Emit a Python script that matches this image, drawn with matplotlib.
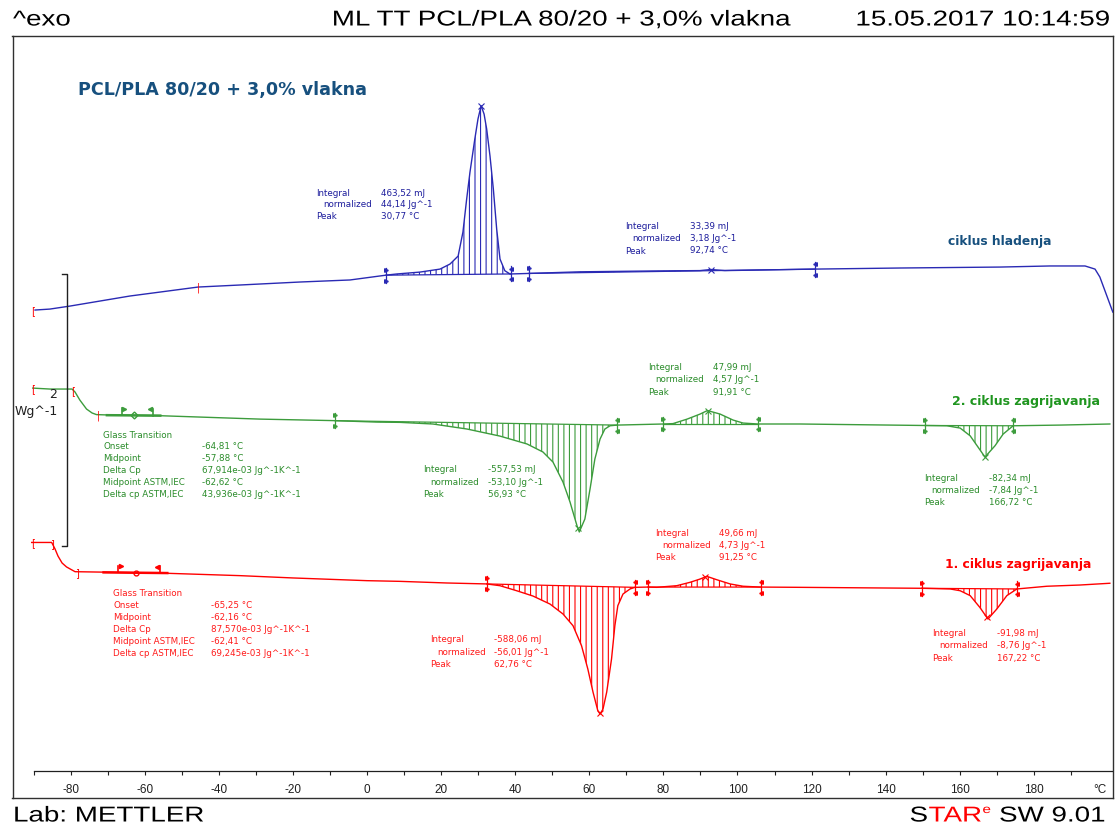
import numpy as np
import matplotlib
matplotlib.use('Agg')
import matplotlib.pyplot as plt
from matplotlib.patheffects import AbstractPathEffect
from matplotlib.transforms import Affine2D

# ---------------- data (temperature in °C, heat flow in W/g) -------------
cool_T = [-89.6, -85.6, -80.2, -72.1, -64.0, -55.9, -45.6, -34.3, -18.1, -4.6, 5.3, 8.0, 14.3,
          19.7, 22.4, 24.6, 25.9, 26.9, 27.8, 29.1, 29.95, 30.8, 31.6, 32.3, 33.2, 34.1, 35.0,
          35.9, 37.2, 38.6, 44.8, 57.5, 76.4, 89.9, 92.8, 96.6, 120.9, 143.9, 170.9, 184.3,
          193.8, 196.5, 197.8, 199.2, 200.5, 201.3]
cool_hf = [0.000, 0.007, 0.029, 0.066, 0.103, 0.132, 0.169, 0.184, 0.206, 0.221, 0.257, 0.265,
           0.279, 0.301, 0.338, 0.397, 0.574, 0.816, 1.015, 1.257, 1.404, 1.502, 1.441, 1.331,
           1.132, 0.890, 0.596, 0.375, 0.289, 0.265, 0.270, 0.281, 0.287, 0.290, 0.298, 0.290,
           0.301, 0.309, 0.316, 0.324, 0.324, 0.301, 0.243, 0.140, 0.044, -0.015]

heat2_T = [-90.2, -85.6, -79.6, -78.8, -77.5, -75.7, -74.2, -73.0, -69.4, -55.9, -28.9, -9.2,
           2.7, 8.9, 17.8, 27.0, 35.9, 43.2, 47.5, 50.2, 52.9, 54.8, 56.7, 57.3, 58.8, 60.2,
           61.5, 62.9, 64.2, 65.6, 67.5, 79.9, 82.6, 86.4, 89.9, 91.9, 95.3, 98.8, 101.5, 105.5,
           116.9, 150.6, 156.5, 160.1, 162.8, 164.9, 166.8, 169.5, 171.7, 174.0, 174.4, 187.0,
           200.5]
heat2_hf = [0.007, 0.0, 0.0, -0.022, -0.081, -0.147, -0.176, -0.188, -0.191, -0.196, -0.221,
            -0.232, -0.243, -0.245, -0.257, -0.294, -0.346, -0.404, -0.463, -0.537, -0.684,
            -0.831, -1.007, -1.051, -0.956, -0.735, -0.515, -0.368, -0.294, -0.270, -0.265,
            -0.257, -0.254, -0.221, -0.184, -0.158, -0.184, -0.228, -0.250, -0.257, -0.257,
            -0.268, -0.270, -0.287, -0.344, -0.426, -0.500, -0.417, -0.331, -0.279, -0.270,
            -0.265, -0.257]

heat1_T = [-90.5, -85.1, -84.2, -83.4, -82.3, -81.1, -78.8, -74.0, -55.9, -34.3, -20.0, 0.0,
           8.9, 21.5, 32.3, 35.9, 40.4, 44.8, 49.4, 52.9, 55.6, 57.9, 59.6, 61.0, 62.3, 62.9,
           63.7, 64.7, 66.0, 66.9, 67.7, 69.1, 71.0, 72.3, 75.8, 78.2, 83.6, 87.2, 89.9, 91.7,
           94.4, 98.0, 101.5, 106.1, 116.9, 149.7, 157.4, 160.1, 162.8, 165.4, 167.6, 170.0,
           172.7, 175.4, 183.5, 192.4, 200.5]
heat1_hf = [0.004, 0.004, -0.044, -0.096, -0.147, -0.176, -0.211, -0.213, -0.221, -0.240,
            -0.257, -0.277, -0.282, -0.294, -0.301, -0.314, -0.351, -0.390, -0.449, -0.522,
            -0.608, -0.755, -0.926, -1.096, -1.233, -1.257, -1.221, -1.096, -0.853, -0.608,
            -0.461, -0.375, -0.338, -0.326, -0.324, -0.326, -0.314, -0.289, -0.265, -0.245,
            -0.270, -0.301, -0.318, -0.324, -0.326, -0.333, -0.338, -0.351, -0.387, -0.473,
            -0.559, -0.485, -0.387, -0.338, -0.318, -0.309, -0.296]

cool_peaks = [30.77, 92.74]
heat2_peaks = [56.93, 91.91, 166.72]
heat1_peaks = [62.76, 91.25, 167.22]

cool_limits = [(5.1, 38.9), (43.6, 121.0)]
heat2_limits = [(-8.6, 67.5), (79.9, 105.5), (150.6, 174.4)]
heat1_limits = [(32.3, 72.3), (75.8, 106.4), (149.7, 175.4)]

heat2_tg = [-66.2, -62.9, -57.8]
heat1_tg = [-67.1, -62.3, -55.9]

scale_bar = 2.0  # Wg^-1

tick_major = list(range(-80, 181, 20))
tick_minor = list(range(-90, 200, 20))

# ---------------- style / layout ----------------
W, H = 1120, 829
BLUE = '#2a2ab4'
BLUE_TXT = '#1c1c9c'
TITLE_BLUE = '#17507e'
GREEN = '#3c9c3c'
GREEN_TXT = '#2a8c2a'
RED = '#ff0000'
RED_TXT = '#ff1a1a'
offsets = {'cool': 3.588, 'heat2': 3.007, 'heat1': 1.875}
PXW = 136.0  # px per W/g

fig = plt.figure(figsize=(W / 100, H / 100), dpi=100)
left_px, right_px, top_px, bot_px = 12.5, 1113, 37, 799
ax = fig.add_axes([left_px / W, (H - bot_px) / H, (right_px - left_px) / W, (bot_px - top_px) / H])
xlim = (-95.68, 201.35)
ax.set_xlim(*xlim)
ax.set_ylim(0, (bot_px - top_px) / PXW)
ax.set_xticks([])
ax.set_yticks([])
for s in ax.spines.values():
    s.set_color('#303030')
    s.set_linewidth(1.0)

plt.rcParams['hatch.linewidth'] = 0.8


def draw_curve(T, hf, off, color, peaks, limits, tgs=None, tg_marker='D'):
    T = np.asarray(T, float)
    y = np.asarray(hf, float) + off
    ax.plot(T, y, color=color, lw=1.0, zorder=3)
    for a, b in limits:
        ya, yb = np.interp(a, T, y), np.interp(b, T, y)
        m = (T > a) & (T < b)
        xs = np.concatenate([[a], T[m], [b]])
        ys = np.concatenate([[ya], y[m], [yb]])
        base = np.interp(xs, [a, b], [ya, yb])
        ax.fill_between(xs, ys, base, facecolor='none', edgecolor=color, hatch='|||',
                        linewidth=0, zorder=2)
        ax.plot([a, b], [ya, yb], color=color, lw=0.9, zorder=3)
        for xx, yy, mk in ((a, ya, '>'), (b, yb, '<')):
            ax.plot([xx, xx], [yy - 0.055, yy + 0.055], color=color, lw=0.9, zorder=4)
            ax.plot([xx], [yy + 0.04], marker=mk, ms=2.6, color=color, zorder=4)
            ax.plot([xx], [yy - 0.04], marker=mk, ms=2.6, color=color, zorder=4)
    for p in peaks:
        ax.plot([p], [np.interp(p, T, y)], marker='x', ms=5, mew=0.8, color=color, zorder=5)
    if tgs:
        a, mid, b = tgs
        ya, ym, yb = (np.interp(v, T, y) for v in tgs)
        ax.plot([a - 4, b + 2], [ya, yb], color=color, lw=1.8, zorder=4)
        ax.plot([a, a], [ya, ya + 0.05], color=color, lw=1.2, zorder=4)
        ax.plot([a + 0.7], [ya + 0.045], marker='>', ms=3, color=color, zorder=4)
        ax.plot([b, b], [yb, yb + 0.05], color=color, lw=1.2, zorder=4)
        ax.plot([b - 0.7], [yb + 0.045], marker='<', ms=3, color=color, zorder=4)
        ax.plot([mid], [ym], marker=tg_marker, ms=3.5, mfc='none', mec=color, mew=1, zorder=4)
    return T, y


cT, cy = draw_curve(cool_T, cool_hf, offsets['cool'], BLUE, cool_peaks, cool_limits)
g2T, g2y = draw_curve(heat2_T, heat2_hf, offsets['heat2'], GREEN, heat2_peaks, heat2_limits,
                      heat2_tg, 'D')
r1T, r1y = draw_curve(heat1_T, heat1_hf, offsets['heat1'], RED, heat1_peaks, heat1_limits,
                      heat1_tg, 'o')


def redmark(T, Tx, yv, s):
    ax.text(Tx, np.interp(Tx, T, yv), s, color=RED, fontsize=7, ha='center', va='center',
            family='DejaVu Sans', zorder=6)


redmark(cT, -90.0, cy, '[')
redmark(cT, -45.6, cy, '|')
redmark(g2T, -90.0, g2y, '[')
redmark(g2T, -79.3, g2y, '[')
redmark(g2T, -72.5, g2y, '|')
redmark(r1T, -90.0, r1y, '[')
redmark(r1T, -85.0, r1y, ']')
redmark(r1T, -78.4, r1y, ']')

# scale bar
top_v = (bot_px - 275) / PXW
ax.plot([-82.4, -81.0, -81.0, -82.4], [top_v, top_v, top_v - scale_bar, top_v - scale_bar],
        color='#202020', lw=1.0, zorder=3)

# x-axis inside the frame
ax2 = fig.add_axes([left_px / W, (H - 772) / H, (right_px - left_px) / W, 0.0001])
ax2.set_xlim(*xlim)
ax2.patch.set_visible(False)
for k in ('top', 'left', 'right'):
    ax2.spines[k].set_visible(False)
ax2.spines['bottom'].set_bounds(-90, 201)
ax2.spines['bottom'].set_color('#202020')
ax2.spines['bottom'].set_linewidth(0.9)
ax2.set_yticks([])
ax2.set_xticks(tick_major)
ax2.set_xticks(tick_minor, minor=True)
ax2.set_xticklabels([str(t) for t in tick_major], family='Liberation Sans', fontsize=8.5)
ax2.tick_params(which='both', direction='out', length=3, width=0.8, colors='#202020', pad=6)


def ftext(px, py, s, **kw):
    kw.setdefault('va', 'center')
    return fig.text(px / W, 1 - py / H, s, **kw)


class HStretch(AbstractPathEffect):
    """Stretch text horizontally about a fixed display x (pixels)."""
    def __init__(self, sx, x0):
        super().__init__()
        self.sx, self.x0 = sx, x0

    def draw_path(self, renderer, gc, tpath, affine, rgbFace=None):
        aff = affine + Affine2D().translate(-self.x0, 0).scale(self.sx, 1).translate(self.x0, 0)
        renderer.draw_path(gc, tpath, aff, rgbFace)


SX = 1.29


def htext(px, py, s, ha='left', color='black', fs=15.5):
    return ftext(px, py, s, ha=ha, family='Liberation Sans', fontsize=fs, color=color,
                 path_effects=[HStretch(SX, px)])


ftext(1100, 790, '°C', fontsize=8.5, family='Liberation Sans', ha='center', color='#202020')
ftext(52.7, 395, '2', fontsize=9, family='DejaVu Sans', ha='center', color='#202020')
ftext(36, 412, 'Wg^-1', fontsize=9, family='DejaVu Sans', ha='center', color='#202020')

# header / footer
htext(13, 21, '^exo', ha='left')
htext(561, 21, 'ML TT PCL/PLA 80/20 + 3,0% vlakna', ha='center')
htext(1110, 21, '15.05.2017 10:14:59', ha='right')
htext(13, 817, 'Lab: METTLER', ha='left')

# titles
ftext(78, 90, 'PCL/PLA 80/20 + 3,0% vlakna', ha='left', fontsize=12.6, fontweight='bold',
      color=TITLE_BLUE, family='DejaVu Sans')
ftext(948, 242, 'ciklus hladenja', ha='left', fontsize=8.8, fontweight='bold',
      color=TITLE_BLUE, family='DejaVu Sans')
ftext(952, 402, '2. ciklus zagrijavanja', ha='left', fontsize=9.0, fontweight='bold',
      color='#1f951f', family='DejaVu Sans')
ftext(945, 565, '1. ciklus zagrijavanja', ha='left', fontsize=8.9, fontweight='bold',
      color=RED, family='DejaVu Sans')

AF = dict(family='DejaVu Sans', fontsize=6.3, ha='left')


def peak_block(x, xv, y, vals, color, dy=12):
    labels = ['Integral', 'normalized', 'Peak']
    xs = [x, x + 7, x]
    for i in range(3):
        ftext(xs[i], y + i * dy, labels[i], color=color, **AF)
        ftext(xv, y + i * dy, vals[i], color=color, **AF)


def tg_block(x, xv, y, vals, color, dy=12):
    labels = ['Onset', 'Midpoint', 'Delta Cp', 'Midpoint ASTM,IEC', 'Delta cp ASTM,IEC']
    ftext(x, y, 'Glass Transition', color=color, **AF)
    for i in range(5):
        ftext(x, y + (i + 1) * dy, labels[i], color=color, **AF)
        ftext(xv, y + (i + 1) * dy, vals[i], color=color, **AF)


peak_block(316, 381, 193.5, ['463,52 mJ', '44,14 Jg^-1', '30,77 °C'], BLUE_TXT, 11.3)
peak_block(625, 690, 227, ['33,39 mJ', '3,18 Jg^-1', '92,74 °C'], BLUE_TXT, 12)
peak_block(648, 713, 367.5, ['47,99 mJ', '4,57 Jg^-1', '91,91 °C'], GREEN_TXT, 12.4)
peak_block(423, 488, 470, ['-557,53 mJ', '-53,10 Jg^-1', '56,93 °C'], GREEN_TXT, 12.5)
peak_block(924, 989, 478.5, ['-82,34 mJ', '-7,84 Jg^-1', '166,72 °C'], GREEN_TXT, 12)
peak_block(655, 719, 533.5, ['49,66 mJ', '4,73 Jg^-1', '91,25 °C'], RED_TXT, 12.2)
peak_block(430, 494, 640, ['-588,06 mJ', '-56,01 Jg^-1', '62,76 °C'], RED_TXT, 12.5)
peak_block(932, 997, 633, ['-91,98 mJ', '-8,76 Jg^-1', '167,22 °C'], RED_TXT, 12.8)

tg_block(103, 202, 435, ['-64,81 °C', '-57,88 °C', '67,914e-03 Jg^-1K^-1', '-62,62 °C',
                         '43,936e-03 Jg^-1K^-1'], GREEN_TXT, 12)
tg_block(113, 211, 593.5, ['-65,25 °C', '-62,16 °C', '87,570e-03 Jg^-1K^-1', '-62,41 °C',
                           '69,245e-03 Jg^-1K^-1'], RED_TXT, 12)

# STARe SW 9.01 logo: pieces measured, then right-aligned at x = 1106 px
fig.canvas.draw()
renderer = fig.canvas.get_renderer()
pieces = (('S', 'black', 15.5, 0), ('TAR', RED, 15.5, 0), ('e', RED, 8.5, -6),
          (' SW 9.01', 'black', 15.5, 0))
widths = []
for s, col, fs, dyp in pieces:
    t = fig.text(0, 0, s, family='Liberation Sans', fontsize=fs)
    bb = t.get_window_extent(renderer)
    widths.append((bb.x1 - bb.x0) * SX + 0.5)
    t.remove()
x = 1106.0 - sum(widths)
for (s, col, fs, dyp), w in zip(pieces, widths):
    htext(x, 817 + dyp, s, ha='left', color=col, fs=fs)
    x += w

fig.savefig('out.png', dpi=100)
